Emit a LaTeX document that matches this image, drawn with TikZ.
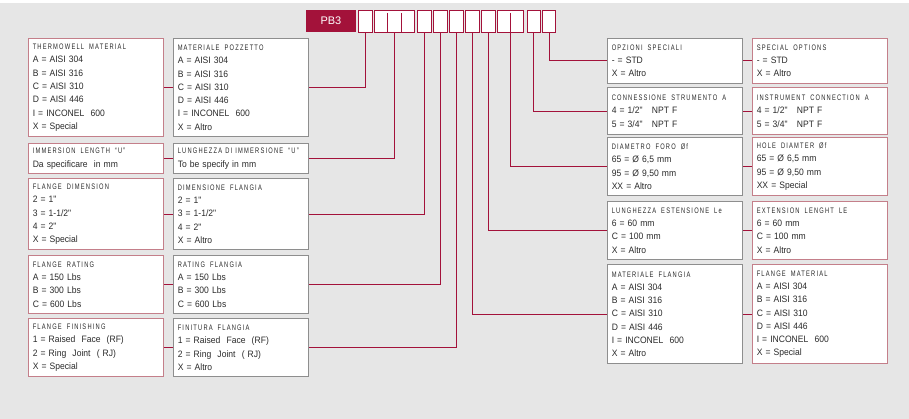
\documentclass[tikz,border=0pt]{standalone}
\usepackage{fontspec}
\setmainfont{Liberation Sans}
\newfontfamily\bodyfont{Liberation Sans}[FakeStretch=0.92]
\newfontfamily\hdrfont{Liberation Sans}[FakeStretch=0.72,LetterSpace=15]
\newfontfamily\pbfont{Liberation Sans}
\definecolor{crim}{HTML}{A3123A}
\definecolor{bg}{HTML}{E6E6E6}
\definecolor{pinkb}{HTML}{C47F8A}
\definecolor{grayb}{HTML}{8E8E8E}
\definecolor{txt}{HTML}{2A2A2A}
\newcommand{\hd}[1]{{\hdrfont\fontsize{8}{13.3}\selectfont #1}}
\newcommand{\ws}{\hspace{5pt}}
\tikzset{
  basebox/.style={anchor=north west, fill=white, line width=0.9pt, inner xsep=4pt, inner ysep=0pt,
    text width=127pt, minimum width=135pt, align=left, text=txt,
    font=\bodyfont\fontsize{9.3}{13.3}\selectfont},
  ebox/.style={basebox, draw=pinkb},
  ibox/.style={basebox, draw=grayb},
  cell/.style={anchor=north west, draw=crim, fill=white, line width=0.9pt, inner sep=0pt, minimum height=22pt},
  conn/.style={draw=crim, line width=0.9pt},
}
\begin{document}
\begin{tikzpicture}[x=1pt,y=-1pt]
\useasboundingbox (0,0) rectangle (909,419);
\fill[bg] (0,0) rectangle (909,419);
\fill[white] (0,0) rectangle (909,3);

% code header
\node[anchor=north west, fill=crim, text=white, inner sep=0pt, minimum width=49.5pt, minimum height=22pt,
  font=\pbfont\fontsize{11}{12}\selectfont] (pb) at (306,10) {PB3};
\node[cell, minimum width=13.4pt] (c1) at (358.3,10) {};
\node[cell, minimum width=40.3pt] (c2) at (374,10) {};
\node[cell, minimum width=13.4pt] (c3) at (417.3,10) {};
\node[cell, minimum width=13.4pt] (c4) at (433.3,10) {};
\node[cell, minimum width=13.4pt] (c5) at (449.3,10) {};
\node[cell, minimum width=13.4pt] (c6) at (465.3,10) {};
\node[cell, minimum width=13.4pt] (c7) at (481.3,10) {};
\node[cell, minimum width=26.6pt] (c8) at (496.7,10) {};
\node[cell, minimum width=12.8pt] (c9) at (526.7,10) {};
\node[cell, minimum width=13pt] (c10) at (542.3,10) {};
\draw[conn] (387.4,13) -- (387.4,32) (401,13) -- (401,32) (510.1,13) -- (510.1,32);

% left column (English)
\node[ebox, minimum height=97.7pt] (thw) at (28.3,38.3) {\hd{THERMOWELL\ws MATERIAL}\\A = AISI 304\\B = AISI 316\\C = AISI 310\\D = AISI 446\\I = INCONEL\ \ 600\\X = Special};
\node[ebox, minimum height=30pt] (imm) at (28.3,143.3) {\hd{IMMERSION\ws LENGTH\ws “U”}\\Da specificare\ \ in mm};
\node[ebox, minimum height=71pt] (fdim) at (28.3,178.3) {\hd{FLANGE\ws DIMENSION}\\2 = 1"\\3 = 1-1/2"\\4 = 2"\\X = Special};
\node[ebox, minimum height=58pt] (frat) at (28.3,255) {\hd{FLANGE\ws RATING}\\A = 150 Lbs\\B = 300 Lbs\\C = 600 Lbs};
\node[ebox, minimum height=58pt] (ffin) at (28.3,318.3) {\hd{FLANGE\ws FINISHING}\\1 = Raised\ \ Face\ \ (RF)\\2 = Ring\ \ Joint\ \ ( RJ)\\X = Special};

% left column (Italian)
\node[ibox, minimum height=97.7pt] (pozz) at (173.3,38.3) {\hd{MATERIALE\ws POZZETTO}\\A = AISI 304\\B = AISI 316\\C = AISI 310\\D = AISI 446\\I = INCONEL\ \ 600\\X = Altro};
\node[ibox, minimum height=30pt] (lim) at (173.3,143.3) {\hd{LUNGHEZZA DI IMMERSIONE\ws “U”}\\To be specify in mm};
\node[ibox, minimum height=71pt] (dfl) at (173.3,178.3) {\hd{DIMENSIONE\ws FLANGIA}\\2 = 1"\\3 = 1-1/2"\\4 = 2"\\X = Altro};
\node[ibox, minimum height=58pt] (rfl) at (173.3,255) {\hd{RATING\ws FLANGIA}\\A = 150 Lbs\\B = 300 Lbs\\C = 600 Lbs};
\node[ibox, minimum height=58pt] (finf) at (173.3,318.3) {\hd{FINITURA\ws FLANGIA}\\1 = Raised\ \ Face\ \ (RF)\\2 = Ring\ \ Joint\ \ ( RJ)\\X = Altro};

% right column (Italian)
\node[ibox, minimum height=44.4pt] (opz) at (607.3,38.3) {\hd{OPZIONI\ws SPECIALI}\\- = STD\\X = Altro};
\node[ibox, minimum height=46.7pt] (cst) at (607.3,87.3) {\hd{CONNESSIONE\ws STRUMENTO\ws A}\\4 = 1/2"\ \ \ NPT F\\5 = 3/4"\ \ \ NPT F};
\node[ibox, minimum height=57.7pt] (dfo) at (607.3,137.3) {\hd{DIAMETRO\ws FORO\ws Øf}\\65 = Ø 6,5 mm\\95 = Ø 9,50 mm\\XX = Altro};
\node[ibox, minimum height=58.3pt] (lest) at (607.3,201) {\hd{LUNGHEZZA\ws ESTENSIONE\ws Le}\\6 = 60 mm\\C = 100 mm\\X = Altro};
\node[ibox, minimum height=99pt] (mfl) at (607.3,264.3) {\hd{MATERIALE\ws FLANGIA}\\A = AISI 304\\B = AISI 316\\C = AISI 310\\D = AISI 446\\I = INCONEL\ \ 600\\X = Altro};

% right column (English)
\node[ebox, minimum height=44.4pt] (sop) at (752.3,38.3) {\hd{SPECIAL\ws OPTIONS}\\- = STD\\X = Altro};
\node[ebox, minimum height=46.7pt] (ico) at (752.3,87.3) {\hd{INSTRUMENT\ws CONNECTION\ws A}\\4 = 1/2"\ \ \ NPT F\\5 = 3/4"\ \ \ NPT F};
\node[ebox, minimum height=57.7pt] (hdi) at (752.3,137.3) {\hd{HOLE\ws DIAMTER\ws Øf}\\65 = Ø 6,5 mm\\95 = Ø 9,50 mm\\XX = Special};
\node[ebox, minimum height=58.3pt] (exl) at (752.3,201) {\hd{EXTENSION\ws LENGHT\ws LE}\\6 = 60 mm\\C = 100 mm\\X = Altro};
\node[ebox, minimum height=99pt] (fma) at (752.3,264.3) {\hd{FLANGE\ws MATERIAL}\\A = AISI 304\\B = AISI 316\\C = AISI 310\\D = AISI 446\\I = INCONEL\ \ 600\\X = Special};

% connectors from code cells
\draw[conn] (c1.south) |- (pozz.east);
\draw[conn] (c2.south) |- (lim.east);
\draw[conn] (c3.south) |- (dfl.east);
\draw[conn] (c4.south) |- (rfl.east);
\draw[conn] (c5.south) |- (finf.east);
\draw[conn] (c6.south) |- (mfl.west);
\draw[conn] (c7.south) |- (lest.west);
\draw[conn] (c8.south) |- (dfo.west);
\draw[conn] (c9.south) |- (cst.west);
\draw[conn] (c10.south) |- (opz.west);

% pair links
\draw[conn] (thw.east) -- (pozz.west);
\draw[conn] (imm.east) -- (lim.west);
\draw[conn] (fdim.east) -- (dfl.west);
\draw[conn] (frat.east) -- (rfl.west);
\draw[conn] (ffin.east) -- (finf.west);
\draw[conn] (opz.east) -- (sop.west);
\draw[conn] (cst.east) -- (ico.west);
\draw[conn] (dfo.east) -- (hdi.west);
\draw[conn] (lest.east) -- (exl.west);
\draw[conn] (mfl.east) -- (fma.west);
\end{tikzpicture}
\end{document}
